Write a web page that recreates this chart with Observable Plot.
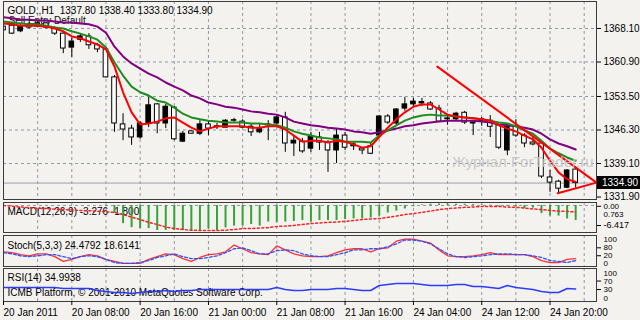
<!DOCTYPE html>
<html><head><meta charset="utf-8">
<script src="https://cdn.jsdelivr.net/npm/d3@7"></script>
<script src="https://cdn.jsdelivr.net/npm/@observablehq/plot@0.6"></script>
<style>
html,body{margin:0;padding:0;background:#f4f2ef;}
#wrap{position:relative;width:640px;height:320px;overflow:hidden;background:#f4f2ef;font-family:"Liberation Sans",Arial,sans-serif;}
#wrap svg{position:absolute;left:0;}
#wm{position:absolute;left:452px;top:153px;font-size:15px;color:#c4c4c4;white-space:nowrap;opacity:0.9;}
#pbox{position:absolute;left:597px;width:43px;height:13px;background:#000;color:#fff;font-size:10px;line-height:13px;padding-left:5px;box-sizing:border-box;}
</style></head><body><div id="wrap"></div>
<script>
// ---- data (bar index = hour bars, 20 Jan 2011 00:00 = 0) ----
const open  = [1368.5,1368.7,1367.5,1369.0,1368.5,1369.2,1368.1,1367.0,1364.0,1365.7,1366.4,1364.5,1363.6,1357.6,1347.5,1346.6,1344.7,1347.7,1351.8,1347.7,1351.1,1343.8,1346.0,1345.5,1347.5,1347.1,1346.8,1348.3,1348.1,1347.0,1345.8,1347.3,1347.7,1349.0,1343.4,1343.8,1342.3,1344.7,1343.6,1341.9,1345.1,1342.8,1342.3,1342.8,1345.1,1349.2,1347.7,1350.9,1351.8,1352.0,1352.0,1350.9,1348.8,1348.6,1350.0,1347.9,1348.1,1348.3,1347.3,1341.9,1347.0,1345.1,1343.6,1343.4,1336.1,1335.2,1333.9,1337.8];
const high  = [1368.9,1369.2,1368.9,1369.4,1369.6,1369.5,1368.5,1367.2,1366.0,1367.0,1367.0,1364.9,1364.0,1358.0,1349.8,1347.3,1348.1,1353.3,1352.0,1351.8,1351.3,1346.0,1346.1,1348.3,1348.3,1347.7,1348.5,1348.8,1348.5,1347.7,1347.5,1348.3,1349.6,1350.1,1345.1,1344.5,1345.8,1345.8,1344.0,1346.6,1345.8,1343.8,1342.5,1343.4,1349.4,1349.6,1350.9,1353.3,1353.1,1353.1,1352.4,1351.6,1349.4,1350.1,1350.3,1348.1,1349.0,1349.4,1347.5,1347.7,1348.5,1345.5,1344.7,1343.6,1337.6,1335.5,1337.8,1338.4];
const low   = [1367.2,1366.8,1367.2,1368.0,1368.3,1368.0,1366.6,1362.7,1361.9,1365.1,1363.6,1362.9,1357.5,1345.8,1344.0,1343.0,1344.3,1346.8,1345.5,1346.6,1344.0,1343.6,1345.4,1345.1,1345.1,1346.4,1346.8,1348.0,1346.6,1344.9,1345.5,1344.0,1347.3,1341.5,1340.6,1341.3,1341.5,1341.9,1337.2,1339.1,1341.9,1341.9,1341.0,1341.0,1344.7,1347.5,1347.3,1350.3,1351.3,1351.3,1350.5,1347.9,1347.3,1348.3,1347.5,1345.1,1347.1,1344.7,1342.1,1340.8,1344.7,1342.5,1342.9,1335.9,1332.9,1332.7,1333.7,1333.8];
const close = [1367.7,1367.0,1368.5,1368.3,1369.2,1368.3,1367.0,1363.8,1365.3,1366.4,1364.5,1363.6,1357.6,1347.7,1346.4,1344.7,1347.7,1351.6,1347.7,1351.3,1344.3,1345.5,1345.5,1347.5,1346.6,1346.9,1348.3,1348.4,1346.8,1345.8,1346.6,1347.5,1349.0,1343.4,1344.0,1341.7,1344.9,1343.6,1341.9,1345.1,1342.5,1343.2,1341.9,1341.2,1349.2,1347.9,1350.7,1351.8,1352.4,1352.3,1350.7,1348.1,1348.6,1349.8,1347.9,1347.7,1348.6,1347.0,1342.5,1347.5,1345.1,1343.4,1343.2,1336.3,1335.0,1333.7,1337.6,1334.9];
const maRed    = [1369.2,1369.0,1368.7,1368.7,1368.7,1368.5,1368.1,1367.5,1366.4,1366.0,1365.3,1364.7,1363.6,1359.9,1354.4,1350.1,1347.5,1347.7,1348.1,1348.8,1349.0,1347.9,1346.8,1346.0,1346.6,1347.1,1347.1,1347.1,1347.1,1346.8,1346.8,1347.1,1347.1,1346.4,1345.1,1343.8,1344.0,1344.0,1343.6,1344.0,1343.8,1343.2,1342.5,1342.8,1344.8,1346.8,1348.6,1350.1,1351.3,1351.8,1351.8,1350.7,1349.6,1349.2,1349.0,1348.8,1348.6,1348.3,1347.3,1346.6,1346.0,1345.1,1344.3,1342.5,1339.7,1337.2,1335.7,1335.2];
const maGreen  = [1369.6,1369.4,1369.2,1369.0,1369.0,1368.7,1368.3,1368.1,1367.5,1367.0,1366.4,1365.7,1364.0,1360.8,1358.0,1355.6,1354.4,1353.7,1352.6,1352.2,1351.1,1349.8,1349.0,1348.6,1348.3,1348.1,1347.9,1347.9,1347.9,1347.7,1347.7,1347.5,1347.3,1346.8,1346.0,1345.5,1345.1,1344.7,1344.5,1344.3,1343.8,1343.8,1343.8,1343.6,1345.1,1346.2,1347.3,1348.3,1349.0,1349.4,1349.6,1349.4,1349.4,1349.2,1349.0,1348.8,1348.6,1348.3,1347.9,1347.7,1347.1,1346.2,1345.5,1344.0,1342.3,1341.3,1340.4,1339.7];
const maPurple = [1370.5,1370.3,1370.0,1370.0,1369.8,1369.8,1369.6,1369.4,1369.4,1369.2,1369.0,1368.5,1367.2,1364.2,1362.1,1360.6,1359.5,1358.4,1357.6,1356.5,1355.6,1354.8,1353.7,1353.1,1352.2,1351.8,1351.3,1351.1,1350.7,1350.3,1350.1,1349.8,1349.6,1349.0,1348.1,1347.7,1347.3,1347.1,1346.8,1346.6,1346.4,1346.0,1345.8,1345.5,1345.8,1346.2,1346.6,1347.1,1347.3,1347.7,1347.9,1348.1,1348.3,1348.3,1348.3,1348.3,1348.1,1347.9,1347.5,1347.3,1347.1,1346.8,1346.4,1345.5,1344.3,1343.4,1342.8,1342.1];
const trendUpperBar = [50.8, 69.44], trendUpperPrice = [1359.9, 1335.0];
const trendLowerBar = [64.9, 69.44], trendLowerPrice = [1332.7, 1335.0];
const macdMain   = [0,0,0,0,0,0,0,0,0,0,0,0,-0.3,-2.5,-5.8,-7.1,-7.4,-7.4,-8.0,-8.0,-8.0,-8.0,-8.3,-8.0,-7.5,-8.0,-7.2,-6.6,-6.6,-6.1,-6.6,-5.3,-5.4,-5.3,-5.1,-4.8,-5.3,-4.8,-4.8,-4.8,-4.5,-4.3,-4.3,-4.0,-3.4,-2.4,-1.8,-1.1,-0.4,0.2,0.4,0.5,0.5,0.4,0.4,0.3,0.2,0.1,-0.2,-0.3,-0.5,-1.0,-0.8,-2.6,-3.4,-3.4,-4.3,-4.8];
const macdSignal = [0,-0.2,-0.5,-0.7,-0.9,-1.0,-1.2,-1.3,-1.4,-1.6,-1.7,-1.8,-2.0,-2.2,-2.9,-3.7,-4.5,-5.4,-6.1,-6.9,-7.4,-7.7,-7.9,-8.0,-8.0,-8.0,-7.9,-7.7,-7.4,-7.4,-7.2,-7.1,-6.7,-6.6,-6.4,-6.1,-5.8,-5.6,-5.4,-5.3,-5.1,-4.8,-4.5,-4.3,-4.2,-3.8,-3.4,-2.9,-2.6,-2.2,-1.8,-1.3,-1.0,-0.8,-0.6,-0.5,-0.3,-0.3,-0.3,-0.5,-0.6,-0.8,-1.1,-1.3,-1.6,-1.8,-1.9,-2.1];
const stochMain   = [48,45,38,34,41,41,31,14,21,31,38,34,21,14,7,7,7,21,31,41,38,24,14,28,38,41,48,72,59,45,41,38,69,55,41,34,31,31,34,45,55,59,59,48,59,62,86,93,93,86,79,55,34,31,31,34,38,45,38,38,38,38,31,17,10,10,21,24];
const stochSignal = [45,41,34,31,34,38,38,31,24,31,34,31,21,10,7,7,10,17,28,34,41,31,24,24,28,34,45,59,62,52,41,41,52,55,52,41,34,31,31,38,45,55,55,59,59,66,76,90,90,86,76,59,41,31,28,31,34,38,41,41,38,38,34,28,17,14,10,17];
const rsi = [39.4,39.4,39.4,39.4,39.4,39.4,39.4,36.3,36.3,36.3,36.3,30.1,27.1,24.0,24.0,20.9,24.0,27.1,27.1,30.1,27.1,30.1,30.1,33.2,33.2,33.2,33.2,33.2,33.2,33.2,33.2,33.2,39.4,33.2,30.1,30.1,33.2,33.2,33.2,36.3,36.3,33.2,30.1,30.1,45.5,48.6,51.7,51.7,51.7,48.6,45.5,45.5,45.5,48.6,48.6,42.5,42.5,39.4,36.3,45.5,39.4,36.3,33.2,27.1,24.0,24.0,36.3,35.0];
const priceTicks = [1368.10,1360.90,1353.50,1346.30,1339.10,1331.90];
const timeTickBars = [0,8,16,24,32,40,48,56,64];
const timeTickLabels = ["20 Jan 2011","20 Jan 08:00","20 Jan 16:00","21 Jan 00:00","21 Jan 08:00","21 Jan 16:00","24 Jan 04:00","24 Jan 12:00","24 Jan 20:00"];
const gridBars = [4,8,12,16,20,24,28,32,36,40,44,48,52,56,60,64,68];
const titleText = "GOLD.,H1  1337.80 1338.40 1333.80 1334.90";
const eaText = "Sell Entry Default";
const macdText = "MACD(12,26,9) -3.276 -1.800";
const stochText = "Stoch(5,3,3) 24.4792 18.6141";
const rsiText = "RSI(14) 34.9938";
const copyText = "ICMB Platform, © 2001-2010 MetaQuotes Software Corp.";
const watermark = "Журнал ForTrader.ru";

// ---- build ----
const GRID = "#8e9aa8", FRAME = "#3c3c3c", FONT = "Liberation Sans, Arial, sans-serif";
const bars = open.map((o, i) => ({i, o, h: high[i], l: low[i], c: close[i]}));
const seq = a => a.map((v, i) => ({i, v}));
const xDomain = [0, 69.44];
const common = {width: 640, marginLeft: 3, marginRight: 44,
  style: {background: "transparent", fontFamily: FONT, fontSize: "10px", color: "#000", overflow: "visible"}};
const vgrid = () => Plot.ruleX(gridBars, {stroke: GRID, strokeDasharray: "3,3", strokeWidth: 1});
const lab = (ticks, fmt, o = {}) => Plot.axisY({ticks, anchor: "right", label: null, tickSize: 4, tickPadding: 3,
  tickFormat: fmt, fontSize: 10, ...o});
const wrap = document.getElementById("wrap");

const main = Plot.plot({...common, height: 200, marginTop: 1, marginBottom: 1,
  x: {domain: xDomain, axis: null},
  y: {domain: [1331.37, 1373.9], axis: null},
  marks: [
    Plot.ruleY(priceTicks.slice(0, 5), {stroke: GRID, strokeDasharray: "3,3"}),
    vgrid(),
    Plot.ruleY([close[close.length - 1]], {stroke: "#9aa4ae"}),
    Plot.text([titleText], {frameAnchor: "top-left", dx: 4, dy: 5, fill: "#000", fontSize: 10}),
    Plot.text([eaText], {frameAnchor: "top-left", dx: 5, dy: 15, fill: "#111", fontSize: 10}),
    Plot.ruleX(bars, {x: "i", y1: "l", y2: "h", stroke: "#000", clip: true}),
    Plot.rect(bars, {x1: d => d.i - 0.27, x2: d => d.i + 0.27, y1: "o", y2: "c",
      fill: d => d.c > d.o ? "#000" : "#fff", stroke: "#000", clip: true}),
    Plot.line(seq(maPurple), {x: "i", y: "v", stroke: "#800080", strokeWidth: 2, clip: true}),
    Plot.line(seq(maGreen), {x: "i", y: "v", stroke: "#1e8c1e", strokeWidth: 2, clip: true}),
    Plot.line(seq(maRed), {x: "i", y: "v", stroke: "#ff0000", strokeWidth: 2, clip: true}),
    Plot.line(trendUpperBar.map((b, k) => ({b, p: trendUpperPrice[k]})), {x: "b", y: "p", stroke: "#ff0000", strokeWidth: 2}),
    Plot.line(trendLowerBar.map((b, k) => ({b, p: trendLowerPrice[k]})), {x: "b", y: "p", stroke: "#ff0000", strokeWidth: 2}),
    Plot.frame({stroke: FRAME}),
    lab(priceTicks, d => d.toFixed(2))
  ]
});
main.style.top = "0px";
wrap.appendChild(main);

const macd = Plot.plot({...common, height: 34, marginTop: 2, marginBottom: 2,
  x: {domain: xDomain, axis: null},
  y: {domain: [-8.65, 0.96], axis: null},
  marks: [
    vgrid(),
    Plot.ruleY([0], {stroke: GRID, strokeDasharray: "3,3"}),
    Plot.text([macdText], {frameAnchor: "top-left", dx: 4, dy: 5, fill: "#000", fontSize: 10}),
    Plot.ruleX(seq(macdMain), {x: "i", y1: () => 0, y2: "v", stroke: "#36a336", strokeWidth: 2, clip: true}),
    Plot.line(seq(macdSignal), {x: "i", y: "v", stroke: "#ff2020", strokeWidth: 1.5, strokeDasharray: "2,2.5", clip: true}),
    Plot.frame({stroke: FRAME}),
    lab([0], () => "0.00", {fontSize: 8, dy: 0.8}),
    lab([0], () => "0.763", {fontSize: 8, tickSize: 0, tickPadding: 7, dy: 8.5}),
    lab([-6.417], d => d.toFixed(3), {fontSize: 9})
  ]
});
macd.style.top = "200px";
wrap.appendChild(macd);

const stoch = Plot.plot({...common, height: 34, marginTop: 1, marginBottom: 2,
  x: {domain: xDomain, axis: null},
  y: {domain: [-4, 106], axis: null},
  marks: [
    vgrid(),
    Plot.text([stochText], {frameAnchor: "top-left", dx: 4, dy: 6, fill: "#000", fontSize: 10}),
    Plot.line(seq(stochMain), {x: "i", y: "v", stroke: "#ff3030", strokeWidth: 1.3, clip: true}),
    Plot.line(seq(stochSignal), {x: "i", y: "v", stroke: "#3050ff", strokeWidth: 1.3, strokeDasharray: "3,2", clip: true}),
    Plot.frame({stroke: FRAME}),
    lab([80], () => "100", {fontSize: 8, tickSize: 0, tickPadding: 7, dy: -3.2}),
    lab([80], d => String(d), {fontSize: 8, dy: 5}),
    lab([20], d => String(d), {fontSize: 8, dy: -4}),
    lab([20], () => "0", {fontSize: 8, tickSize: 0, tickPadding: 7, dy: 4.2})
  ]
});
stoch.style.top = "234px";
wrap.appendChild(stoch);

const rsiPlot = Plot.plot({...common, height: 53, marginTop: 1, marginBottom: 19,
  x: {domain: xDomain, axis: null},
  y: {domain: [-3.7, 97.8], axis: null},
  marks: [
    vgrid(),
    Plot.text([rsiText], {frameAnchor: "top-left", dx: 4, dy: 5, fill: "#000", fontSize: 10}),
    Plot.text([copyText], {frameAnchor: "top-left", dx: 4, dy: 20, fill: "#000", fontSize: 10}),
    Plot.line(seq(rsi), {x: "i", y: "v", stroke: "#2a3cff", strokeWidth: 1.5, clip: true}),
    Plot.frame({stroke: FRAME}),
    lab([70], () => "100", {fontSize: 8, tickSize: 0, tickPadding: 7, dy: -4.5}),
    lab([70], d => String(d), {fontSize: 8, dy: 3.5}),
    lab([30], d => String(d), {fontSize: 8, dy: -1}),
    lab([30], () => "0", {fontSize: 8, tickSize: 0, tickPadding: 7, dy: 7.5}),
    Plot.axisX({ticks: timeTickBars, anchor: "bottom", label: null, tickSize: 4, tickPadding: 3, textAnchor: "start",
      tickFormat: d => timeTickLabels[timeTickBars.indexOf(d)], fontSize: 10})
  ]
});
rsiPlot.style.top = "267px";
wrap.appendChild(rsiPlot);

const wm = document.createElement("div");
wm.id = "wm"; wm.textContent = watermark;
wrap.appendChild(wm);

const pb = document.createElement("div");
pb.id = "pbox"; pb.textContent = close[close.length - 1].toFixed(2);
pb.style.top = (main.scale("y").apply(close[close.length - 1]) - 6.5) + "px";
wrap.appendChild(pb);
</script></body></html>
